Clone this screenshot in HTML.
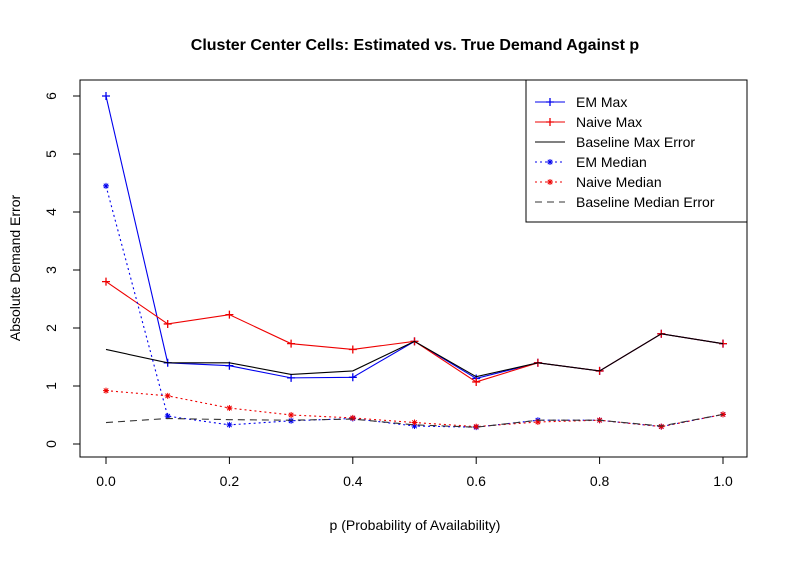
<!DOCTYPE html>
<html><head><meta charset="utf-8"><style>
body{margin:0;background:#fff}
text{font-family:"Liberation Sans",sans-serif}
</style></head><body>
<svg id="c" width="790" height="560" xmlns="http://www.w3.org/2000/svg">
<text x="415" y="50" text-anchor="middle" font-size="16" font-weight="bold">Cluster Center Cells: Estimated vs. True Demand Against p</text>
<rect x="80" y="80" width="667" height="377" fill="none" stroke="#000"/>
<text x="415" y="530" text-anchor="middle" font-size="14">p (Probability of Availability)</text>
<text transform="translate(20,268) rotate(-90)" text-anchor="middle" font-size="14">Absolute Demand Error</text>
<g id="axes"></g><g id="series"></g><g id="legend"></g>
</svg>
<script>
const pValues=[0,0.1,0.2,0.3,0.4,0.5,0.6,0.7,0.8,0.9,1.0];
const xTicks=[0,0.2,0.4,0.6,0.8,1.0];
const xTickLabels=["0.0","0.2","0.4","0.6","0.8","1.0"];
const yTicks=[0,1,2,3,4,5,6];
const emMax=[6.0,1.40,1.35,1.14,1.15,1.77,1.13,1.40,1.26,1.90,1.73];
const naiveMax=[2.8,2.07,2.23,1.73,1.63,1.77,1.07,1.40,1.26,1.90,1.73];
const baselineMax=[1.63,1.40,1.40,1.20,1.26,1.77,1.16,1.40,1.26,1.90,1.73];
const emMedian=[4.45,0.48,0.33,0.40,0.44,0.31,0.29,0.41,0.41,0.30,0.51];
const naiveMedian=[0.92,0.83,0.62,0.50,0.45,0.37,0.30,0.38,0.41,0.30,0.51];
const baselineMedian=[0.37,0.44,0.42,0.41,0.43,0.33,0.29,0.41,0.41,0.31,0.51];
const NS="http://www.w3.org/2000/svg";
const X=v=>106+v*617, Y=v=>444-v*58;
function mk(t,a,p){const e=document.createElementNS(NS,t);for(const k in a)e.setAttribute(k,a[k]);p.appendChild(e);return e;}
const ax=document.getElementById('axes');
const xa=mk('line',{x1:X(0),x2:X(1),y1:457,y2:457,stroke:'#000'},ax);


xTicks.forEach((v,i)=>{
 mk('line',{x1:X(v),x2:X(v),y1:457,y2:464,stroke:'#000'},ax);
 const t=mk('text',{x:X(v),y:486,'text-anchor':'middle','font-size':14},ax);t.textContent=xTickLabels[i];
 
 
});
const ya=mk('line',{x1:80,x2:80,y1:Y(0),y2:Y(6),stroke:'#000'},ax);


yTicks.forEach(v=>{
 mk('line',{x1:73,x2:80,y1:Y(v),y2:Y(v),stroke:'#000'},ax);
 const t=mk('text',{transform:`translate(56,${Y(v)}) rotate(-90)`,'text-anchor':'middle','font-size':14},ax);t.textContent=String(v);
 
 
});
function plus(g,x,y,c){mk('path',{d:`M${x-4} ${y}H${x+4}M${x} ${y-4}V${y+4}`,stroke:c,'stroke-width':1.3},g);}
function star(g,x,y,c){mk('path',{d:`M${x-3} ${y}H${x+3}M${x} ${y-3}V${y+3}M${x-2.2} ${y-2.2}L${x+2.2} ${y+2.2}M${x-2.2} ${y+2.2}L${x+2.2} ${y-2.2}`,stroke:c,'stroke-width':1},g);}
const sg=document.getElementById('series');
const series=[
 {n:'em-max',d:emMax,c:'#0000ee',dash:'',m:plus,l:'EM Max'},
 {n:'naive-max',d:naiveMax,c:'#ee0000',dash:'',m:plus,l:'Naive Max'},
 {n:'baseline-max',d:baselineMax,c:'#000',dash:'',m:null,l:'Baseline Max Error'},
 {n:'em-median',d:emMedian,c:'#0000ee',dash:'2,3',m:star,l:'EM Median'},
 {n:'naive-median',d:naiveMedian,c:'#ee0000',dash:'2,3',m:star,l:'Naive Median'},
 {n:'baseline-median',d:baselineMedian,c:'#333',dash:'7,5',m:null,l:'Baseline Median Error'}
];
series.forEach(s=>{
 const g=mk('g',{},sg);
 
 
 const pl=mk('polyline',{points:s.d.map((v,i)=>X(pValues[i])+','+Y(v)).join(' '),fill:'none',stroke:s.c,'stroke-width':1.1,'stroke-dasharray':s.dash},g);
 
 
 if(s.m)s.d.forEach((v,i)=>s.m(g,X(pValues[i]),Y(v),s.c));
});
const lg=document.getElementById('legend');
const box=mk('rect',{x:526,y:80,width:221,height:142,fill:'#fff',stroke:'#000'},lg);


series.forEach((s,i)=>{
 const y=102+i*20;
 const g=mk('g',{},lg);
 
 
 mk('line',{x1:535,x2:565,y1:y,y2:y,stroke:s.c,'stroke-width':1.1,'stroke-dasharray':s.dash},g);
 if(s.m)s.m(g,550,y,s.c);
 const t=mk('text',{x:576,y:y+5,'font-size':14},g);t.textContent=s.l;
});
</script>
</body></html>
